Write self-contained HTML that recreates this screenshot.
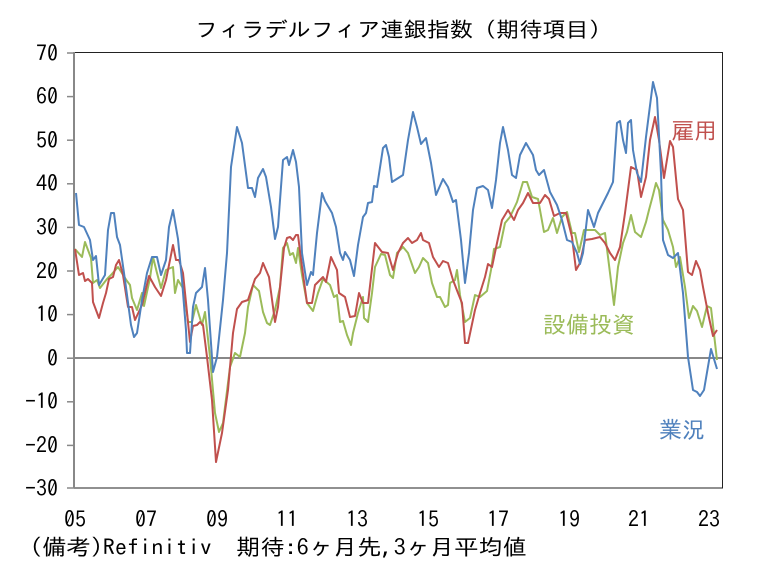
<!DOCTYPE html>
<html><head><meta charset="utf-8"><style>
html,body{margin:0;padding:0;background:#fff;}
svg{display:block;}
text{font-family:"IPAGothic","Noto Sans CJK JP",sans-serif;}
</style></head><body>
<svg width="769" height="573" viewBox="0 0 769 573" xmlns="http://www.w3.org/2000/svg">
<rect width="769" height="573" fill="#fff"/>
<text x="195" y="37" font-size="21" textLength="417" lengthAdjust="spacingAndGlyphs" fill="#000">フィラデルフィア連銀指数（期待項目）</text>
<rect x="74.5" y="52.5" width="648" height="435.5" fill="none" stroke="#222" stroke-width="1"/>
<line x1="74" y1="52" x2="74" y2="488" stroke="#888" stroke-width="2"/>
<g stroke="#888" stroke-width="1.5">
<line x1="67" y1="53" x2="74" y2="53"/><line x1="67" y1="96.6" x2="74" y2="96.6"/><line x1="67" y1="140.2" x2="74" y2="140.2"/><line x1="67" y1="183.8" x2="74" y2="183.8"/><line x1="67" y1="227.4" x2="74" y2="227.4"/><line x1="67" y1="271" x2="74" y2="271"/><line x1="67" y1="314.6" x2="74" y2="314.6"/><line x1="67" y1="358.2" x2="74" y2="358.2"/><line x1="67" y1="401.8" x2="74" y2="401.8"/><line x1="67" y1="445.4" x2="74" y2="445.4"/><line x1="67" y1="488" x2="74" y2="488"/>
</g>
<line x1="74" y1="358" x2="722" y2="358" stroke="#888" stroke-width="2"/>
<g font-size="22" text-anchor="end" fill="#000">
<text x="58" y="61">70</text><text x="58" y="104">60</text><text x="58" y="148">50</text><text x="58" y="191">40</text><text x="58" y="235">30</text><text x="58" y="279">20</text><text x="58" y="322">10</text><text x="58" y="366">0</text><text x="58" y="409">-10</text><text x="58" y="453">-20</text><text x="58" y="496">-30</text>
</g>
<g font-size="22" text-anchor="middle" fill="#000">
<text x="75" y="527">05</text><text x="146" y="527">07</text><text x="217" y="527">09</text><text x="287" y="527">11</text><text x="357" y="527">13</text><text x="428" y="527">15</text><text x="498" y="527">17</text><text x="569" y="527">19</text><text x="639" y="527">21</text><text x="709" y="527">23</text>
</g>
<text x="30" y="555" font-size="22" textLength="497" lengthAdjust="spacingAndGlyphs" fill="#000">(備考)Refinitiv　期待:6ヶ月先,3ヶ月平均値</text>
<g fill="none" stroke-width="2" stroke-linejoin="round">
<polyline stroke="#9bbb59" points="75,249 82,257 85,242 91,258 93,283 97,280 100,288 107,279 111,275 118,267 127,281 130,285 132,298 137,310 142,293 144,306 150,278 153,257 157,273 161,288 166,270 173,267 175,293 178,280 184,290 188,322 192,322 196,305 202,325 205,312 210,357 215,413 219,432 223,423 230,367 235,353 240,357 245,333 248,307 253,285 259,291 263,312 267,323 270,325 275,310 280,287 283,248 287,243 290,255 293,253 296,263 298,248 302,275 307,303 313,311 318,293 323,279 330,285 334,297 337,295 340,322 343,321 347,335 351,345 353,333 358,313 363,297 364,318 368,322 372,293 375,267 381,254 385,255 390,275 393,278 397,253 403,247 408,253 415,273 419,267 423,258 428,263 432,283 437,297 440,297 445,307 448,305 450,283 455,280 457,270 460,295 465,322 470,318 475,295 480,297 487,291 491,270 494,249 500,247 505,223 510,217 517,202 523,182 527,182 532,197 538,199 544,232 548,230 553,218 557,233 562,217 567,212 572,233 575,233 579,252 584,230 589,230 595,230 600,235 605,233 608,257 613,297 614,305 618,267 623,243 627,232 631,215 635,232 641,237 646,222 649,210 653,195 656,183 659,190 663,220 668,230 673,247 676,267 680,257 685,287 689,318 693,306 697,311 702,327 707,306 711,308 717,360"/>
<polyline stroke="#c0504d" points="75,249 79,275 83,273 85,281 88,279 92,283 93,302 99,318 103,303 106,293 109,279 113,277 116,265 119,260 123,275 128,307 132,307 135,320 142,305 149,276 155,287 161,296 166,280 173,245 176,260 179,260 183,273 190,342 193,326 197,325 200,322 203,325 207,357 212,400 216,462 222,433 228,390 233,333 237,309 242,302 248,300 255,279 260,273 263,263 269,277 275,322 278,307 284,248 287,238 290,237 293,240 296,235 298,235 302,267 307,303 312,303 315,285 323,277 326,282 331,257 337,270 339,293 345,297 350,317 355,316 359,293 363,303 368,303 375,243 382,252 388,253 393,270 398,253 403,243 408,238 412,243 417,240 421,233 423,240 429,243 433,257 439,267 443,261 448,263 453,280 458,293 462,303 465,343 468,343 475,310 480,293 485,277 488,264 492,267 497,243 502,220 508,210 514,220 518,210 523,203 528,193 533,203 540,203 545,195 549,199 554,216 560,213 566,213 572,237 576,270 580,263 585,240 592,239 600,237 605,243 610,253 615,260 620,247 625,213 631,167 637,170 641,197 646,177 650,140 655,117 659,140 664,178 670,141 673,147 678,199 683,210 688,272 692,275 696,261 700,270 703,287 708,313 713,336 717,330"/>
<polyline stroke="#4f81bd" points="76,193 79,225 84,227 90,240 93,260 96,256 99,285 105,275 108,230 111,213 114,213 117,237 120,245 125,280 131,325 134,337 137,333 142,300 147,273 152,257 157,257 161,275 166,260 169,227 173,210 178,239 182,280 186,330 187,353 190,353 193,307 196,293 202,287 205,268 208,300 213,372 217,357 223,300 227,253 231,167 237,127 242,143 248,188 252,188 255,197 258,178 263,169 266,177 271,207 275,239 278,227 283,160 287,157 289,165 293,150 296,162 299,187 302,253 307,285 311,272 313,275 317,233 322,193 325,201 332,213 336,227 340,253 343,260 345,252 350,260 354,276 358,245 363,217 366,213 368,203 372,202 374,186 377,187 383,148 386,145 389,157 392,182 403,175 408,140 413,112 417,127 421,144 426,138 431,163 436,195 443,179 448,187 453,202 456,200 461,240 465,283 469,253 473,210 477,188 483,186 488,190 492,208 496,180 500,143 503,127 508,150 512,175 516,178 520,155 526,143 533,155 536,170 539,175 544,170 550,192 557,205 562,220 567,240 572,242 577,253 580,264 583,253 588,210 594,227 598,213 603,203 608,193 613,182 617,123 620,121 623,140 626,153 628,123 631,120 633,150 637,173 641,182 646,137 653,82 657,98 661,173 663,240 668,255 673,258 678,253 683,293 688,357 693,390 697,392 700,396 704,390 711,349 717,369"/>
</g>
<text x="671" y="139" font-size="23" fill="#c0504d">雇用</text>
<text x="543" y="333" font-size="23" fill="#9bbb59">設備投資</text>
<text x="659" y="438" font-size="23" fill="#4f81bd">業況</text>
</svg>
</body></html>
